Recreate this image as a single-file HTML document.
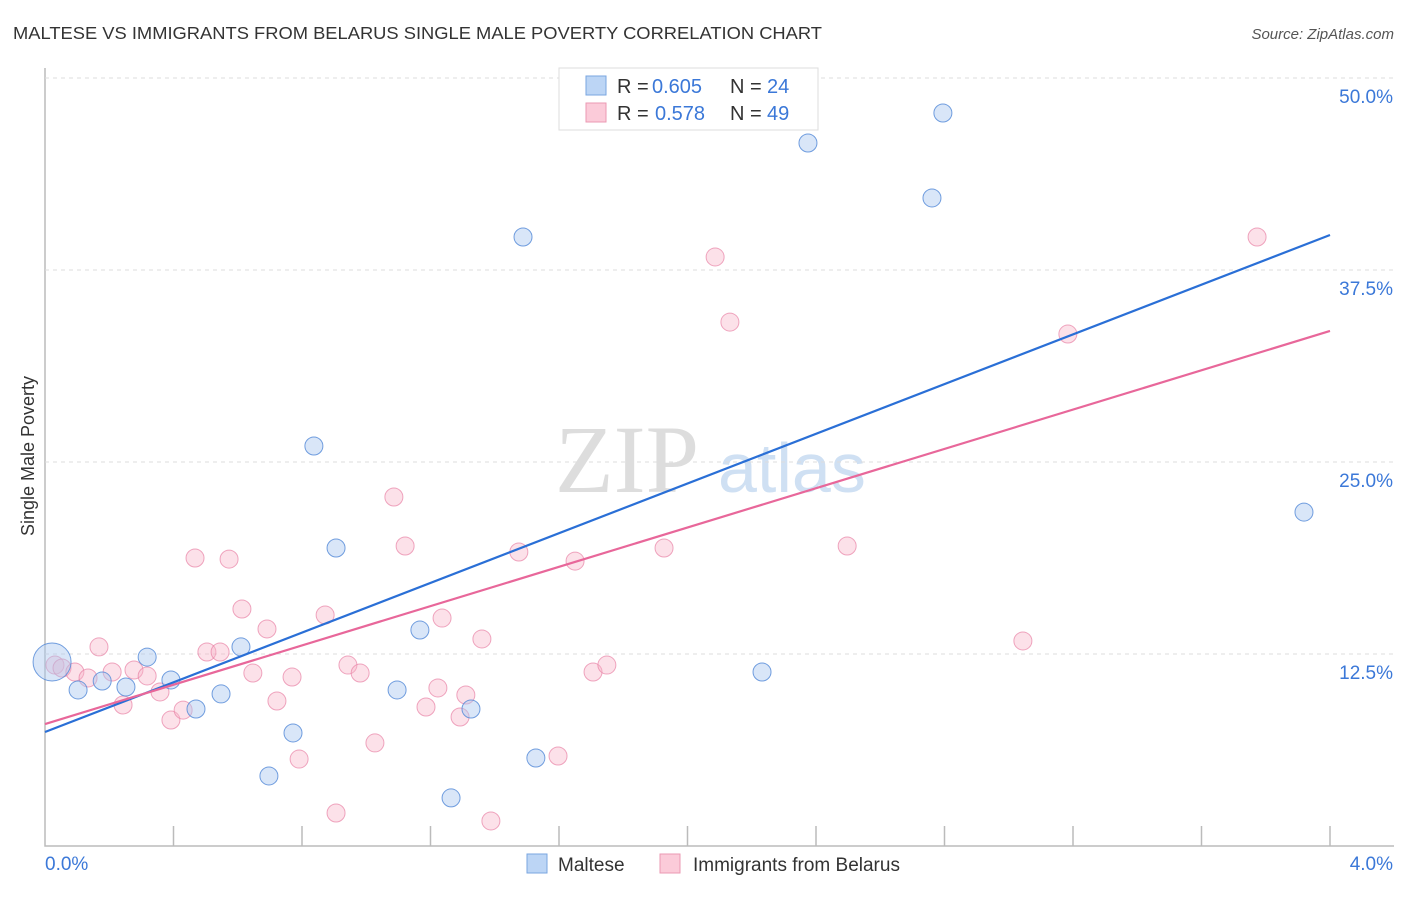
<!DOCTYPE html>
<html><head><meta charset="utf-8"><style>
body{margin:0;background:#fff;font-family:"Liberation Sans",sans-serif;}
#c{position:relative;width:1406px;height:892px;}
</style></head><body>
<div id="c">
<svg id="s" width="1406" height="892" xmlns="http://www.w3.org/2000/svg">
<text x="13" y="39" font-size="17.5" fill="#333" textLength="809" lengthAdjust="spacingAndGlyphs">MALTESE VS IMMIGRANTS FROM BELARUS SINGLE MALE POVERTY CORRELATION CHART</text>
<text x="1394" y="39" font-size="15" fill="#555" font-style="italic" text-anchor="end">Source: ZipAtlas.com</text>
<text x="34" y="456" font-size="18" fill="#333" text-anchor="middle" transform="rotate(-90 34 456)">Single Male Poverty</text>
<text x="555" y="492" font-size="96" fill="#ddd" font-family="Liberation Serif,serif">ZIP</text>
<text x="718" y="492" font-size="70" fill="#cfe0f3">atlas</text>
<g id="grid"></g><g id="pts"></g><g id="lines"></g>
<g font-size="20">
<rect x="559" y="68" width="259" height="62" fill="#fff" stroke="#ddd"/>
<rect x="586" y="76" width="20" height="19" fill="#bcd5f5" stroke="#7aa6e0"/>
<rect x="586" y="103" width="20" height="19" fill="#fbcbd9" stroke="#eb9ab3"/>
<text x="617" y="93" fill="#333">R =</text><text x="652" y="93" fill="#3b78d8">0.605</text>
<text x="730" y="93" fill="#333">N =</text><text x="767" y="93" fill="#3b78d8">24</text>
<text x="617" y="120" fill="#333">R =</text><text x="655" y="120" fill="#3b78d8">0.578</text>
<text x="730" y="120" fill="#333">N =</text><text x="767" y="120" fill="#3b78d8">49</text>
</g>
<g>
<rect x="527" y="854" width="20" height="19" fill="#bcd5f5" stroke="#7aa6e0"/>
<text x="558" y="871" font-size="19" fill="#333">Maltese</text>
<rect x="660" y="854" width="20" height="19" fill="#fbcbd9" stroke="#eb9ab3"/>
<text x="693" y="871" font-size="19" fill="#333">Immigrants from Belarus</text>
</g>
</svg></div>
<script>
const yTicks=[12.5,25,37.5,50];
const yTickLabels=["12.5%","25.0%","37.5%","50.0%"];
const xTickLabels=["0.0%","4.0%"];
const maltX=[0.022,0.103,0.178,0.252,0.318,0.392,0.470,0.548,0.610,0.697,0.772,0.837,0.906,1.096,1.167,1.264,1.326,1.488,1.528,2.232,2.375,2.761,2.795,3.919];
const maltY=[11.98,10.16,10.74,10.35,12.30,10.81,8.92,9.90,12.96,4.56,7.36,26.04,19.40,10.16,14.06,3.13,8.92,39.65,5.73,11.33,45.77,42.19,47.72,21.74];
const belX=[0.031,0.053,0.093,0.168,0.134,0.209,0.243,0.277,0.318,0.358,0.392,0.430,0.467,0.504,0.545,0.573,0.613,0.647,0.691,0.722,0.769,0.791,0.872,0.906,0.943,0.981,1.027,1.086,1.121,1.186,1.223,1.236,1.292,1.310,1.360,1.388,1.475,1.597,1.650,1.706,1.749,1.824,1.927,2.086,2.132,2.497,3.044,3.184,3.773];
const belY=[11.78,11.59,11.33,12.96,10.94,11.33,9.18,11.46,11.07,10.03,8.20,8.85,18.75,12.63,12.63,18.68,15.43,11.26,14.13,9.44,11.00,5.66,15.04,2.15,11.78,11.26,6.71,22.72,19.53,9.05,10.29,14.84,8.40,9.83,13.48,1.63,19.14,5.86,18.55,11.33,11.78,47.92,19.40,38.35,34.11,19.53,13.35,33.33,39.65];
const maltTrend=[7.42,39.78];
const belTrend=[7.94,33.53];
const NS="http://www.w3.org/2000/svg";
const X=v=>45+v/4*1285, Y=v=>846-v/50*768;
function mk(t,a,p){const e=document.createElementNS(NS,t);for(const k in a)e.setAttribute(k,a[k]);p.appendChild(e);return e;}
const g=document.getElementById('grid');
const ax=mk('path',{d:'M45,68 V846 H1394',fill:'none',stroke:'#bbb','stroke-width':1.5},g);


yTicks.forEach((v,i)=>{
 const l=mk('line',{x1:45,x2:1394,y1:Y(v),y2:Y(v),stroke:'#ddd','stroke-dasharray':'4,4'},g);
 
 
 const t=mk('text',{x:1393,y:Y(v)+25,'font-size':19,fill:'#3b78d8','text-anchor':'end'},g);
 t.textContent=yTickLabels[i];
 
 
});
for(let i=1;i<=10;i++){
 const l=mk('line',{x1:X(i*0.4),x2:X(i*0.4),y1:826,y2:846,stroke:'#bbb','stroke-width':1.5},g);
 
 
}
[[0,45,'start'],[4,1393,'end']].forEach((a,i)=>{
 const t=mk('text',{x:a[1],y:870,'font-size':19,fill:'#3b78d8','text-anchor':a[2]},g);
 t.textContent=xTickLabels[i];
 
 
});
const p=document.getElementById('pts');
belX.forEach((x,i)=>{
 const c=mk('circle',{cx:X(x),cy:Y(belY[i]),r:9,fill:'rgba(248,180,200,0.4)',stroke:'rgba(232,130,165,0.7)','stroke-width':1},p);
 
 
});
maltX.forEach((x,i)=>{
 const c=mk('circle',{cx:X(x),cy:Y(maltY[i]),r:i==0?19:9,fill:'rgba(170,200,240,0.45)',stroke:'rgba(80,135,215,0.8)','stroke-width':1},p);
 
 
});
const L=document.getElementById('lines');
const a=mk('line',{x1:X(0),y1:Y(maltTrend[0]),x2:X(4),y2:Y(maltTrend[1]),stroke:'#2a6fd6','stroke-width':2.2},L);


const b=mk('line',{x1:X(0),y1:Y(belTrend[0]),x2:X(4),y2:Y(belTrend[1]),stroke:'#e8679a','stroke-width':2.2},L);


</script>
</body></html>
